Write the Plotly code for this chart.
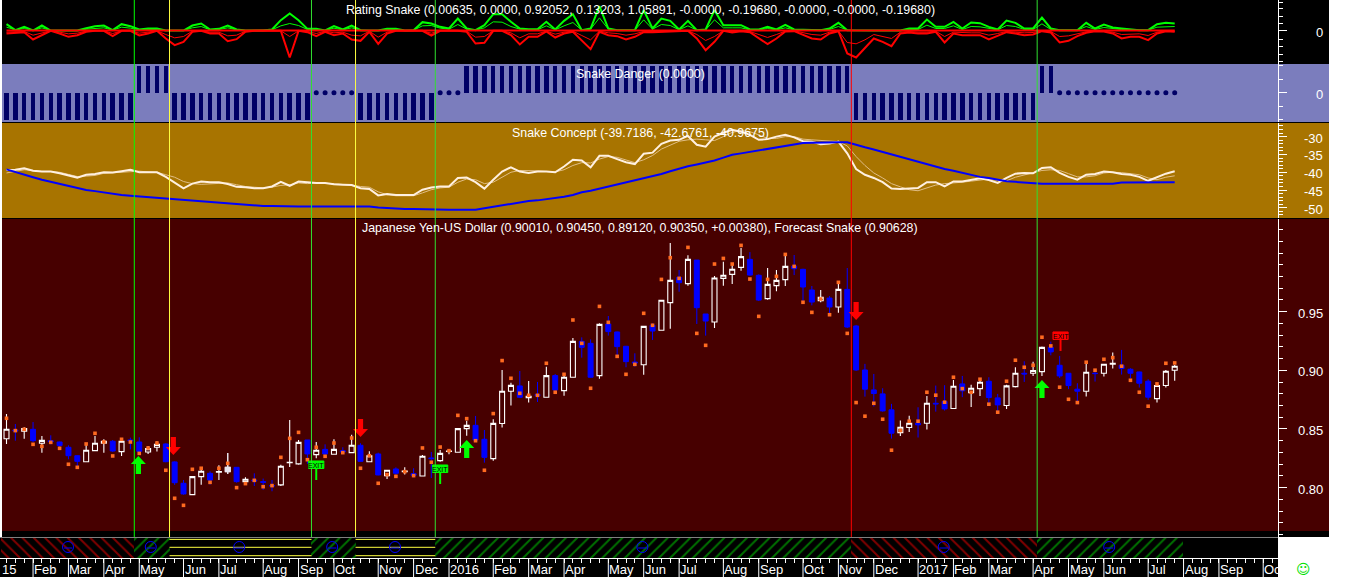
import plotly.graph_objects as go

W, H = 1352, 577
AX = 1278  # right axis x, pixels

# ---- price data (weekly) ----
opens = [.8417,.8491,.8480,.8497,.8378,.8400,.8389,.8344,.8272,.8221,.8315,.8378,.8395,.8307,.8406,.8389,.8304,.8344,.8372,.8219,.8037,.7940,.8094,.8122,.8131,.8136,.8173,.8051,.8065,.8051,.8017,.8023,.8213,.8202,.8406,.8281,.8326,.8284,.8315,.8298,.8361,.8221,.8287,.8102,.8159,.8136,.8119,.8099,.8253,.8230,.8309,
 .8301,.8503,.8531,.8412,.8247,.8546,.8821,.8867,.8767,.8793,.8770,.8955,.8827,.8941,.9247,.9230,.8955,.9395,.9327,.9205,.9071,.9048,.9384,.9341,.9577,.9792,.9739,.9940,.9480,.9412,.9784,.9818,.9878,.9946,.9810,.9611,.9722,.9773,.9889,.9861,.9685,.9594,.9616,.9540,.9690,
 .9378,.9003,.8833,.8799,.8663,.8469,.8512,.8549,.8549,.8719,.8734,.8674,.8884,.8810,.8844,.8907,.8765,.8700,.8861,.8975,.8975,.8989,.9196,.9043,.8975,.8839,.8822,.8975,.8975,.9052,.9043,.9009,.8986,.8907,.8759,.8870,.9001]
highs = [.8628,.8542,.8514,.8559,.8440,.8446,.8392,.8361,.8275,.8363,.8440,.8412,.8406,.8406,.8426,.8429,.8355,.8395,.8378,.8224,.8065,.8099,.8173,.8139,.8190,.8295,.8173,.8088,.8122,.8077,.8065,.8196,.8576,.8406,.8406,.8389,.8369,.8412,.8344,.8451,.8378,.8309,.8298,.8150,.8173,.8173,.8165,.8278,.8304,.8321,.8321,
 .8506,.8571,.8611,.8491,.8582,.9003,.8895,.8994,.8909,.8901,.9031,.8969,.8969,.9276,.9281,.9264,.9401,.9463,.9330,.9208,.9145,.9378,.9401,.9599,1.0085,.9855,.9980,.9940,.9480,.9804,.9926,.9912,1.0042,1.0008,.9818,.9872,.9855,.9997,.9983,.9866,.9719,.9685,.9633,.9741,.9872,
 .9387,.9055,.8969,.8847,.8714,.8572,.8612,.8685,.8782,.8870,.8873,.8918,.8952,.8876,.8930,.8941,.8799,.8876,.9026,.9077,.9072,.9202,.9245,.9123,.8975,.8890,.9055,.9009,.9055,.9151,.9174,.9018,.8989,.8924,.8895,.9003,.9045]
lows = [.8372,.8400,.8417,.8386,.8298,.8369,.8326,.8241,.8184,.8219,.8309,.8298,.8304,.8270,.8326,.8287,.8287,.8307,.8216,.8023,.7940,.7937,.8025,.8025,.8065,.8116,.8042,.8025,.8014,.7980,.7969,.8014,.8176,.8196,.8202,.8250,.8264,.8281,.8284,.8292,.8221,.8219,.8105,.8074,.8108,.8111,.8088,.8094,.8082,.8221,.8284,
 .8298,.8443,.8400,.8213,.8230,.8512,.8699,.8764,.8725,.8730,.8767,.8827,.8784,.8938,.9108,.8938,.8929,.9296,.9122,.9026,.9031,.8963,.9259,.9338,.9355,.9670,.9722,.9395,.9296,.9361,.9722,.9736,.9849,.9807,.9591,.9602,.9673,.9719,.9812,.9580,.9554,.9580,.9477,.9491,.9361,
 .8995,.8776,.8691,.8648,.8418,.8441,.8475,.8427,.8495,.8648,.8657,.8671,.8771,.8688,.8782,.8719,.8651,.8671,.8853,.8901,.8952,.8952,.9128,.8935,.8839,.8736,.8776,.8904,.8947,.9015,.8964,.8932,.8853,.8748,.8725,.8853,.8912]
closes = [.8497,.8483,.8503,.8400,.8403,.8392,.8358,.8272,.8224,.8318,.8378,.8395,.8312,.8395,.8400,.8309,.8332,.8369,.8221,.8042,.7946,.8094,.8139,.8065,.8136,.8173,.8051,.8071,.8057,.8045,.8014,.8182,.8216,.8386,.8287,.8318,.8287,.8326,.8304,.8361,.8224,.8272,.8108,.8148,.8122,.8142,.8105,.8267,.8247,.8292,.8312,
 .8503,.8531,.8406,.8258,.8548,.8821,.8872,.8770,.8779,.8784,.8955,.8833,.8941,.9247,.9196,.8941,.9392,.9330,.9202,.9074,.9063,.9375,.9335,.9597,.9767,.9747,.9946,.9534,.9420,.9787,.9810,.9861,.9969,.9812,.9599,.9733,.9767,.9886,.9866,.9710,.9582,.9622,.9540,.9690,.9369,
 .9003,.8839,.8802,.8654,.8464,.8515,.8549,.8535,.8719,.8714,.8671,.8864,.8825,.8847,.8898,.8768,.8705,.8867,.8975,.8969,.8998,.9196,.9157,.8952,.8870,.8822,.8984,.8972,.9052,.9060,.9015,.8975,.8890,.8771,.8870,.8992,.9035]
forecast = [.8591,.8486,.8497,.8369,.8352,.8386,.8335,.8199,.8173,.8372,.8463,.8389,.8270,.8412,.8389,.8292,.8338,.8380,.8148,.7909,.7849,.8156,.8165,.8045,.8165,.8207,.8000,.8034,.8062,.8008,.8017,.8258,.8420,.8471,.8238,.8344,.8267,.8380,.8298,.8423,.8165,.8272,.8037,.8111,.8096,.8136,.8102,.8338,.8216,.8346,.8315,
 .8616,.8588,.8400,.8148,.8631,.9083,.8932,.8804,.8787,.8787,.9060,.8813,.8966,.9429,.9230,.8847,.9545,.9409,.9119,.8966,.9051,.9486,.9384,.9775,.9960,.9784,1.0048,.9315,.9213,.9906,.9954,.9906,1.0065,.9778,.9460,.9775,.9801,.9988,.9886,.9580,.9494,.9608,.9474,.9750,.9315,
 .8725,.8609,.8719,.8583,.8319,.8487,.8566,.8566,.8813,.8788,.8728,.8941,.8844,.8813,.8924,.8711,.8643,.8907,.9086,.9026,.9043,.9282,.9208,.8856,.8753,.8725,.9069,.9001,.9094,.9108,.9035,.8915,.8813,.8694,.8884,.9060,.9063]
solid_white_week = [25]

# ---- Rating Snake ----
rating_green = [.95,.05,.55,0,.75,0,0,0,0,.35,.65,.75,.05,.95,.65,.15,.3,.3,0,0,0,.75,1.05,.15,.25,.75,.15,0,0,0,.15,1.55,2.55,1.55,.25,.25,0,.65,.15,.75,.05,0,0,.25,.25,0,.05,1.25,1.05,.55,.3,
 1.8,.3,.05,.8,2.45,2.45,1.3,.3,.2,.2,1.3,.15,1.45,2.45,.05,.3,3.65,.3,.05,.05,.05,3.05,.3,1.8,1.45,.15,1.45,.05,.15,3.05,.8,.8,.8,.15,.15,.55,.15,.85,.15,.1,.05,.05,.3,1.15,.05,0,
 0,0,0,0,0,
 .3,.3,1.65,.55,.55,1.3,.3,1.2,1.1,.55,.15,1.5,1.15,.3,.3,1.95,.3,.05,.05,.05,1.15,.3,.9,.45,.3,.15,.05,.05,.95,1.15,1.06]
rating_red = [-.45,-.35,-.25,-1.35,-.7,-.05,-.45,-.95,-.7,-.2,-.05,-.05,-.85,-.05,-.05,-.75,-.45,-.05,-1.2,-2.2,-1.7,-.2,-.05,-.45,-.45,-1.6,-1.3,-.2,-.05,-.1,-.05,-.05,-4.05,-.05,-.25,-.85,-.2,-.7,-.45,-1.35,-1.55,-.2,-2,-.45,-.05,-.05,-.05,-.05,-.75,-.05,-.05,
 -.05,-.2,-1.95,-1.85,-.05,-.05,-.7,-2.1,-.95,-.95,-.15,-1.05,-.45,-.2,-1.45,-2.8,-.2,-.7,-.85,-1.35,-.95,-.25,-.25,-.2,-.1,-.1,-.05,-1.2,-2.95,-1.7,-.05,-.3,-.1,-.25,-1.2,-2.05,-1.2,-.15,-.1,-.7,-1.2,-1.35,-.45,-.1,-3.45,-4.05,-2.7,-1.2,-1.7,-2.35,-.45,
 -.3,-.45,-.45,-.2,-1.8,-.45,-.7,-.7,-.7,-1.35,-.85,-.25,-.45,-.7,-.6,-.1,-.3,-1.8,-1.55,-.85,-.35,-.1,-.15,-.45,-1.2,-.95,-.95,-1.45,-.45,-.1,-.2]
rating_green_thin = [.5,.1,.3,0,.4,0,0,0,0,.2,.35,.4,.05,.5,.35,.1,.15,.15,0,0,0,.4,.6,.1,.15,.4,.1,0,0,0,.1,.7,1.05,.75,.15,.15,0,.35,.1,.4,.05,0,0,.15,.15,0,.05,.7,.75,.35,.2,
 .9,.2,.05,.4,1.3,1.25,.6,.2,.1,.1,.7,.1,.7,1.2,.05,.2,1.9,.2,.05,.05,.05,1.6,.2,.9,.75,.1,.7,.05,.1,1.6,.4,.4,.4,.1,.1,.3,.1,.4,.1,.05,.05,.05,.15,.6,.05,0,
 0,0,0,0,0,
 .15,.15,.8,.3,.3,.7,.15,.6,.55,.3,.1,.75,.6,.15,.15,1,.15,.05,.05,.05,.6,.15,.45,.25,.15,.1,.05,.05,.5,.6,.6]
rating_red_thin = [-.25,-.2,-.15,-.7,-.4,-.05,-.25,-.5,-.4,-.1,-.05,-.05,-.45,-.05,-.05,-.4,-.25,-.05,-.6,-1.1,-.9,-.1,-.05,-.25,-.25,-.8,-.7,-.1,-.05,-.05,-.05,-.05,-.9,-.05,-.15,-.45,-.1,-.35,-.25,-.7,-.8,-.1,-1,-.25,-.05,-.05,-.05,-.05,-.4,-.05,-.05,
 -.05,-.1,-1,-.9,-.05,-.05,-.35,-1.1,-.5,-.5,-.1,-.55,-.25,-.1,-.75,-1.4,-.1,-.35,-.45,-.7,-.5,-.15,-.15,-.1,-.05,-.05,-.05,-.6,-1.5,-.9,-.05,-.15,-.05,-.15,-.6,-1.05,-.6,-.1,-.05,-.35,-.6,-.7,-.25,-.05,-1.8,-2,-1.4,-.6,-.9,-1.2,-.25,
 -.15,-.25,-.25,-.1,-.9,-.25,-.35,-.35,-.35,-.7,-.45,-.15,-.25,-.35,-.3,-.05,-.15,-.9,-.8,-.45,-.2,-.05,-.1,-.25,-.6,-.5,-.5,-.75,-.25,-.05,-.1]
rating_ticks_minor = [4.25,3.3,2.15,1.05,-1.35,-2.45,-3.55,-4.6]

# ---- Snake Danger ----
danger = [-1]*15 + [1]*4 + [-1]*16 + [0]*5 + [-1]*9 + [0]*3 + [1]*44 + [-1]*21 + [1]*2 + [0]*14

# ---- Snake Concept ----
concept_main = [-39.4,-39.3,-38.9,-39.6,-39.8,-39.8,-40.3,-40.8,-41.5,-40.7,-40.5,-40,-40.1,-39.7,-39.3,-40,-40,-40,-41.3,-43,-44.5,-43.2,-42.6,-42.8,-42.8,-43.3,-44.1,-44.2,-44.5,-44.5,-44,-42.7,-43.8,-42.6,-42.9,-43,-43,-43.4,-43.5,-43.6,-44.5,-44.7,-46.5,-46.1,-46.4,-46.4,-46.4,-44.9,-44.3,-44,-44,
 -41.6,-41.5,-42.8,-44.6,-42.1,-39.8,-38.6,-39.8,-40.2,-39.8,-39.8,-40,-38.4,-36.5,-36.7,-38.6,-35.4,-35.4,-36.3,-37.2,-37.7,-34.8,-34.5,-32,-31.1,-30.9,-29.8,-32.3,-32.8,-30,-28.9,-28.1,-28.6,-29.5,-30.9,-30.7,-30,-29.5,-30.2,-31.3,-31.4,-32.1,-31.9,-31.4,-34.7,-39.1,-40.7,-41.6,-42.8,-44.6,-44.7,
 -44.6,-44.4,-42.8,-42.8,-44,-42.6,-42.6,-42.1,-41.7,-42.2,-43,-41.6,-40.4,-40.2,-40.3,-38.8,-38.6,-40.2,-41.3,-42.1,-40.7,-40.5,-39.8,-40,-40.5,-40.7,-41.3,-42.4,-41.4,-40.4,-39.7]
concept_signal = [-40.2,-39.7,-39.3,-39.5,-39.8,-39.8,-40,-40.6,-41.2,-41.1,-40.9,-40.3,-40.1,-39.9,-39.8,-39.7,-39.9,-40,-40.7,-41.4,-42.6,-43.2,-43.4,-43.2,-43.2,-43,-43.5,-44,-44.2,-44.4,-44.2,-43.7,-43.5,-43,-43.2,-43,-43.1,-43.2,-43.3,-43.6,-44,-44.2,-45.5,-46.3,-46.6,-46.6,-46.6,-45.8,-44.9,-44.4,-44.2,
 -42.8,-41.9,-42.1,-43.2,-42.8,-41.3,-40,-39.5,-39.5,-39.6,-39.8,-39.9,-39.3,-38.1,-37.3,-37.4,-36.3,-35.6,-35.8,-36.5,-37.3,-36.5,-35.3,-33.5,-32.4,-31.3,-30.9,-30.7,-30.9,-31.1,-30,-28.8,-28.3,-28.6,-29.5,-30.5,-30.5,-30,-30,-30.7,-30.9,-31.1,-31.4,-31.4,-32.6,-35.6,-38.1,-40.2,-41.6,-43.2,-44.1,
 -44.9,-45.2,-44.4,-43.6,-43.2,-43.1,-42.8,-42.5,-42.2,-41.9,-42.3,-42.4,-41.4,-40.7,-40.2,-39.5,-39.3,-39.5,-40.4,-41.3,-41.3,-41,-40.2,-40,-40.1,-40.3,-40.7,-41.6,-42.1,-41.4,-41]
concept_slow = [-39.2,-40,-40.7,-41.4,-42.1,-42.7,-43.3,-43.9,-44.4,-45,-45.3,-45.7,-46,-46.4,-46.6,-46.8,-47.1,-47.3,-47.5,-47.7,-47.9,-48.1,-48.3,-48.5,-48.7,-48.9,-49,-49.2,-49.3,-49.5,-49.5]+[-49.6]*11+[-49.9,-50.1,-50.2,-50.3,-50.3,-50.4,-50.5,-50.5,-50.5,
 -50.5,-50.5,-50.5,-50.1,-49.7,-49.3,-48.8,-48.4,-48.1,-47.9,-47.6,-47.3,-46.9,-46.4,-45.6,-45.2,-44.6,-44,-43.5,-42.9,-42.3,-41.6,-41.2,-40.5,-39.7,-38.9,-38.3,-37.8,-37.3,-36.7,-35.9,-35.1,-34.7,-34.3,-33.9,-33.4,-33.1,-32.6,-32.1,-31.8,-31.7,-31.6,-31.6,-31.6,-31.6,-32.4,-33,-33.6,-34.3,-35,-35.7,
 -36.3,-37,-37.7,-38.6,-39.1,-39.6,-40.2,-40.8,-41.3,-41.6,-42.1,-42.5,-42.7,-42.9,-43.2]+[-43.2]*9+[-42.9]*6+[-42.8]

# ---- signals ----
signal_lines = [14.44,18.42,34.46,39.44,48.45,95.46,116.46]
signal_colors = ['#00ff00','#ffff40','#30e030','#ffff40','#30e030','#ff0000','#30e030']
arrow_up_week = [14.9,52,117]
arrow_up_tip = [.8269,.8406,.8917]
arrow_dn_week = [18.85,40,96]
arrow_dn_tip = [.8278,.8431,.9429]
exit_week = [35,49,119.1]
exit_top = [.8227,.8193,.9327]
exit_bottom = [.8065,.8031,.9165]
exit_color = ['#00ff00','#00ff00','#ff0000']

# ---- regime strip ----
seg_start = [-.62,14.44,18.42,34.46,39.44,48.45,95.46,116.46]
seg_end = [14.44,18.42,34.46,39.44,48.45,95.46,116.46,132.94]
seg_state = ['bear','bull','flat','bull','flat','bull','bear','bull']
face_week = [6.95,16.3,26.3,36.8,43.9,71.85,105.9,124.6]
flat_levels = [.93,.535,.115]

# ---- calendar ----
month_week = [3,7,11,15,20,24,29,33,37,42,46,50,55,59,63,68,72,76,81,85,90,94,98,103,107,111,116,120,124,129,133,137,142]
month_text = ['Feb','Mar','Apr','May','Jun','Jul','Aug','Sep','Oct','Nov','Dec','2016','Feb','Mar','Apr','May','Jun','Jul','Aug','Sep','Oct','Nov','Dec','2017','Feb','Mar','Apr','May','Jun','Jul','Aug','Sep','Oc']

price_major = [.80,.85,.90,.95]
price_minor = [x/100 for x in range(76,103)]
concept_major = [-30,-35,-40,-45,-50]
concept_minor = list(range(-52,-26))

PX0, PXW = 6.5, 8.85
weeks = list(range(len(closes)))

def fy(p):
    return 1 - p / H

fig = go.Figure()

# price
fig.add_trace(go.Candlestick(x=weeks, open=opens, high=highs, low=lows, close=closes, yaxis='y4', whiskerwidth=0,
    increasing=dict(line=dict(color='#ffffff', width=1.1), fillcolor='rgba(0,0,0,0)'),
    decreasing=dict(line=dict(color='#0000ff', width=1), fillcolor='#0000ff')))
fig.add_trace(go.Candlestick(x=solid_white_week, open=[opens[i] for i in solid_white_week], high=[highs[i] for i in solid_white_week],
    low=[lows[i] for i in solid_white_week], close=[closes[i] for i in solid_white_week], yaxis='y4', whiskerwidth=0,
    increasing=dict(line=dict(color='#e8e4f0', width=1), fillcolor='#e8e4f0')))
fig.add_trace(go.Scatter(x=weeks, y=forecast, yaxis='y4', mode='markers',
    marker=dict(symbol='square', size=3.6, color='#ff6a20', line=dict(width=0))))

# arrows, drawn as filled polygons sized in chart units
UPX = 1/1173.0
hw, sw, hh, tot = 7.5/PXW, 2.6/PXW, 8*UPX, 18*UPX
def arrow(x, tip, d):
    return ([x, x+hw, x+sw, x+sw, x-sw, x-sw, x-hw, x, None],
            [tip, tip-d*hh, tip-d*hh, tip-d*tot, tip-d*tot, tip-d*hh, tip-d*hh, tip, None])
for xs, tips, d, col in [(arrow_up_week, arrow_up_tip, 1, '#00ff00'), (arrow_dn_week, arrow_dn_tip, -1, '#ff0000')]:
    ax, ay = [], []
    for x, t in zip(xs, tips):
        a, b = arrow(x, t, d)
        ax += a; ay += b
    fig.add_trace(go.Scatter(x=ax, y=ay, yaxis='y4', mode='lines', fill='toself', fillcolor=col, line=dict(width=0)))

# exit flags
for x, t, b, c in zip(exit_week, exit_top, exit_bottom, exit_color):
    fig.add_trace(go.Scatter(x=[x, x], y=[t, b], yaxis='y4', mode='lines', line=dict(color=c, width=2)))
    fw = 7.6/PXW
    fig.add_trace(go.Scatter(x=[x-fw, x+fw, x+fw, x-fw, x-fw], y=[t, t, t-7.5*UPX, t-7.5*UPX, t], yaxis='y4', mode='lines',
                             fill='toself', fillcolor=c, line=dict(color=c, width=1)))

# rating
fig.add_trace(go.Scatter(x=weeks, y=rating_green_thin, yaxis='y', mode='lines', line=dict(color='#00ff00', width=1)))
fig.add_trace(go.Scatter(x=weeks, y=rating_red_thin, yaxis='y', mode='lines', line=dict(color='#ff0000', width=1)))
fig.add_trace(go.Scatter(x=weeks, y=rating_green, yaxis='y', mode='lines', line=dict(color='#00ff00', width=2)))
fig.add_trace(go.Scatter(x=weeks, y=rating_red, yaxis='y', mode='lines', line=dict(color='#ff0000', width=2)))
fig.add_trace(go.Scatter(x=weeks, y=[0]*len(weeks), yaxis='y', mode='lines', line=dict(color='#ff0000', width=2)))

# danger
bars_x = [w for w, d in zip(weeks, danger) if d != 0]
bars_y = [d for d in danger if d != 0]
fig.add_trace(go.Bar(x=bars_x, y=bars_y, yaxis='y2', width=0.5, marker=dict(color='#000066', cornerradius=1.8, line=dict(width=0))))
fig.add_trace(go.Scatter(x=[w for w, d in zip(weeks, danger) if d == 0], y=[d for d in danger if d == 0], yaxis='y2', mode='markers',
    marker=dict(symbol='circle', size=5, color='#000066', line=dict(width=0))))

# concept
fig.add_trace(go.Scatter(x=weeks, y=concept_signal, yaxis='y3', mode='lines', line=dict(color='#e0bd86', width=1)))
fig.add_trace(go.Scatter(x=weeks, y=concept_main, yaxis='y3', mode='lines', line=dict(color='#fff0e0', width=2)))
fig.add_trace(go.Scatter(x=weeks, y=concept_slow, yaxis='y3', mode='lines', line=dict(color='#0000ff', width=2)))

# regime strip
styles = {'bear': ('\\', '#ff0000'), 'bull': ('/', '#00e000')}
for state, (shape, col) in styles.items():
    idx = [k for k, s in enumerate(seg_state) if s == state]
    fig.add_trace(go.Bar(x=[(seg_start[k]+seg_end[k])/2 for k in idx], y=[1]*len(idx), width=[seg_end[k]-seg_start[k] for k in idx], yaxis='y5',
        marker=dict(color='#000000', line=dict(width=0), pattern=dict(shape=shape, fgcolor=col, bgcolor='#000000', size=8, solidity=0.25))))
for lev in flat_levels:
    lx, ly = [], []
    for s, a, b in zip(seg_state, seg_start, seg_end):
        if s == 'flat':
            lx += [a, b, None]; ly += [lev, lev, None]
    fig.add_trace(go.Scatter(x=lx, y=ly, yaxis='y5', mode='lines', line=dict(color='#ffff40', width=1)))
fig.add_trace(go.Scatter(x=face_week, y=[.55]*len(face_week), yaxis='y5', mode='markers',
    marker=dict(symbol='circle-open', size=11, color='#0000ff', line=dict(color='#0000ff', width=1))))
fig.add_trace(go.Scatter(x=face_week, y=[.5]*len(face_week), yaxis='y5', mode='markers',
    marker=dict(symbol='line-ew', size=6, color='#0000ff', line=dict(color='#0000ff', width=1))))

# ---- page furniture ----
def rect(x0, y0, x1, y1, col):
    return dict(type='rect', xref='paper', yref='paper', layer='below', x0=x0/W, x1=x1/W, y0=fy(y1), y1=fy(y0),
                fillcolor=col, line=dict(width=0))
shapes = [
    rect(2, 0, 1329, 64, '#000000'),
    rect(2, 64, 1329, 122, '#7b7dbd'),
    rect(2, 122, 1329, 123, '#000000'),
    rect(2, 123, 1329, 218, '#a87400'),
    rect(2, 218, 1329, 219, '#000000'),
    rect(2, 219, 1329, 531, '#470000'),
    rect(2, 531, 1329, 537, '#000000'),
    rect(0, 537, AX, 577, '#000000'),
    dict(type='line', xref='paper', yref='paper', layer='below', x0=0, x1=AX/W, y0=fy(537.5), y1=fy(537.5), line=dict(color='#808080', width=1)),
]
for x, c in zip(signal_lines, signal_colors):
    shapes.append(dict(type='line', xref='x', yref='paper', x0=x, x1=x, y0=fy(537), y1=1, line=dict(color=c, width=1)))
for m in month_week:
    shapes.append(dict(type='line', xref='x', yref='paper', x0=m, x1=m, y0=0, y1=fy(558), line=dict(color='#ffffff', width=1)))

ann = []
TF = dict(family='Liberation Sans', size=12.4, color='#ffffff')
def title(txt, y):
    ann.append(dict(text=txt, xref='paper', yref='paper', x=640/W, y=fy(y), xanchor='center', yanchor='middle', showarrow=False, font=TF))
title('Rating Snake (0.00635, 0.0000, 0.92052, 0.13203, 1.05891, -0.0000, -0.19680, -0.0000, -0.0000, -0.19680)', 10)
title('Snake Danger (0.0000)', 74)
title('Snake Concept (-39.7186, -42.6761, -40.9675)', 133)
title('Japanese Yen-US Dollar (0.90010, 0.90450, 0.89120, 0.90350, +0.00380), Forecast Snake (0.90628)', 228)

LF = dict(family='Liberation Sans', size=13, color='#ffffff')
def ylab(txt, val, yr):
    ann.append(dict(text=txt, xref='paper', yref=yr, x=1325/W, y=val, xanchor='right', yanchor='middle', yshift=-1.5, showarrow=False, font=LF))
ylab('0', 0, 'y')
ylab('0', 0, 'y2')
for v in concept_major:
    ylab(str(v), v, 'y3')
for v in price_major:
    ylab('%.2f' % v, v, 'y4')
CF = dict(family='Liberation Sans', size=13, color='#ffffff')
for m, t in zip(month_week, month_text):
    ann.append(dict(text=t, xref='x', yref='paper', x=m, y=fy(569), xanchor='left', yanchor='middle', xshift=-1, showarrow=False, font=CF))
ann.append(dict(text='15', xref='paper', yref='paper', x=18/W, y=fy(569), xanchor='right', yanchor='middle', showarrow=False, font=CF))
ann.append(dict(text='☺', xref='paper', yref='paper', x=1303/W, y=fy(569), xanchor='center', yanchor='middle', showarrow=False,
                font=dict(family='DejaVu Sans', size=14, color='#00e000')))
# EXIT labels
for x, t, c in zip(exit_week, exit_top, exit_color):
    ann.append(dict(text='EXIT', xref='x', yref='y4', x=x, y=t, yanchor='top', xanchor='center', yshift=1, showarrow=False,
                    font=dict(family='Liberation Sans', size=7, color='#000000')))

def yax(top, bot, rng, major, minor, **kw):
    return dict(domain=[fy(bot), fy(top)], range=rng, anchor='free', position=AX/W, side='right', showgrid=False, zeroline=False,
                showline=True, linecolor='#ffffff', linewidth=1, ticks='outside', ticklen=8, tickcolor='#ffffff', tickwidth=1,
                tickmode='array', tickvals=major, showticklabels=False,
                minor=dict(ticks='outside', ticklen=4, tickcolor='#ffffff', tickwidth=1, tickmode='array', tickvals=minor, showgrid=False),
                fixedrange=True, **kw)

fig.update_layout(
    width=W, height=H, margin=dict(l=0, r=0, t=0, b=0), showlegend=False,
    paper_bgcolor='#ffffff', plot_bgcolor='rgba(0,0,0,0)', barmode='overlay', bargap=0, boxgap=0.2,
    shapes=shapes, annotations=ann,
    xaxis=dict(domain=[0, AX/W], range=[-PX0/PXW, (AX-PX0)/PXW], anchor='free', position=fy(558), showgrid=False, zeroline=False,
               showline=True, linecolor='#ffffff', linewidth=1, ticks='outside', ticklen=4, tickcolor='#ffffff', tick0=0, dtick=1,
               showticklabels=False, rangeslider=dict(visible=False), fixedrange=True),
    yaxis=yax(0, 64, [-5.03, 4.58], [0], rating_ticks_minor),
    yaxis2=yax(64, 122, [-1.09, 1.07], [0], [-1, -.5, .5, 1]),
    yaxis3=yax(123, 218, [-52.85, -26.17], concept_major, concept_minor),
    yaxis4=yax(219, 537, [.7579, 1.0290], price_major, price_minor),
    yaxis5=dict(domain=[fy(558), fy(538)], range=[0, 1], visible=False, anchor='free', position=0, fixedrange=True),
)
fig.write_html('out.html', config=dict(displayModeBar=False),
               post_script="document.body.style.margin='0';document.documentElement.style.overflow='hidden';")
